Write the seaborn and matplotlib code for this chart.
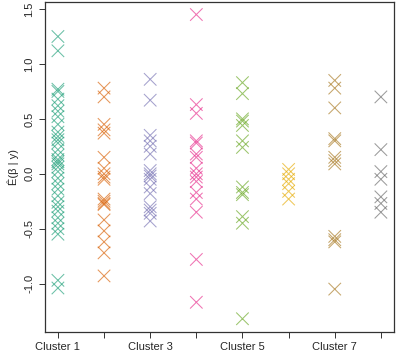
import pandas as pd
import matplotlib
matplotlib.use("Agg")
import matplotlib.pyplot as plt
import seaborn as sns

# Werte pro Cluster
cluster_1 = [1.25, 1.12, 0.77, 0.75, 0.68, 0.62, 0.57, 0.52, 0.45, 0.38, 0.34, 0.31, 0.28,
             0.22, 0.17, 0.13, 0.11, 0.09, 0.06, 0.02, -0.04, -0.09, -0.14, -0.20, -0.26,
             -0.30, -0.34, -0.40, -0.45, -0.50, -0.55, -0.97, -1.04]
cluster_2 = [0.78, 0.70, 0.45, 0.40, 0.37, 0.15, 0.05, 0.0, -0.03, -0.05, -0.23, -0.25,
             -0.27, -0.28, -0.42, -0.52, -0.62, -0.72, -0.93]
cluster_3 = [0.86, 0.67, 0.35, 0.30, 0.25, 0.18, 0.03, 0.0, -0.02, -0.05, -0.12, -0.18,
             -0.30, -0.33, -0.36, -0.43]
cluster_4 = [1.45, 0.63, 0.55, 0.30, 0.28, 0.18, 0.15, 0.05, 0.0, -0.03, -0.07, -0.17,
             -0.23, -0.35, -0.78, -1.17]
cluster_5 = [0.83, 0.73, 0.50, 0.48, 0.44, 0.30, 0.24, -0.12, -0.17, -0.19, -0.39, -0.45,
             -1.32]
cluster_6 = [0.04, 0.0, -0.05, -0.09, -0.16, -0.23]
cluster_7 = [0.85, 0.78, 0.60, 0.32, 0.30, 0.15, 0.12, 0.09, -0.57, -0.60, -0.62, -1.05]
cluster_8 = [0.70, 0.22, 0.02, -0.05, -0.21, -0.27, -0.35]

cluster_names = [f"Cluster {i}" for i in range(1, 9)]
tick_labels = ["Cluster 1", "", "Cluster 3", "", "Cluster 5", "", "Cluster 7", ""]
y_ticks = [-1.0, -0.5, 0.0, 0.5, 1.0, 1.5]

all_values = [cluster_1, cluster_2, cluster_3, cluster_4,
              cluster_5, cluster_6, cluster_7, cluster_8]
rows = []
for name, vals in zip(cluster_names, all_values):
    for v in vals:
        rows.append({"cluster": name, "value": v})
df = pd.DataFrame(rows)

sns.set_style("ticks")
plt.rcParams["font.family"] = ["Liberation Sans", "DejaVu Sans"]

fig = plt.figure(figsize=(4.0, 3.52), dpi=100)
ax = fig.add_axes([0.1125, 0.057, 0.872, 0.936])

sns.stripplot(data=df, x="cluster", y="value", hue="cluster", order=cluster_names,
              palette="Dark2", jitter=False, marker="x", size=9, linewidth=0.75,
              alpha=0.65, legend=False, ax=ax)

ax.set_xlim(-0.28, 7.28)
ax.set_ylim(-1.44, 1.56)
ax.set_xticks(range(8))
ax.set_xticklabels(tick_labels, fontsize=8)
ax.set_yticks(y_ticks)
ax.set_yticklabels([f"{t:.1f}" for t in y_ticks], fontsize=8, rotation=90, va="center")
ax.set_xlabel("")
ax.set_ylabel("Ê(β | y)", fontsize=8, labelpad=4)
ax.tick_params(length=4, width=0.7, color="#333333")
# Rahmen rundherum wie im Original
sns.despine(ax=ax, top=False, right=False, left=False, bottom=False)
for sp in ax.spines.values():
    sp.set_visible(True)
    sp.set_linewidth(0.9)
    sp.set_color("#333333")
    sp.set_zorder(5)

fig.savefig("out.png", dpi=100)
